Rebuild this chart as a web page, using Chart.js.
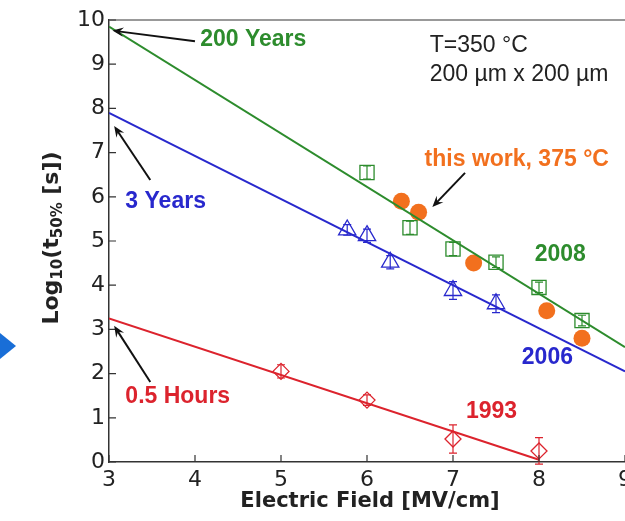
<!DOCTYPE html>
<html>
<head>
<meta charset="utf-8">
<script src="https://cdn.jsdelivr.net/npm/chart.js@4.4.1/dist/chart.umd.min.js"></script>
<style>
  body { margin: 0; overflow: hidden; background: #fff; }
  #wrap { position: absolute; left: 0; top: 0; width: 680px; height: 521px; }
</style>
</head>
<body>
<div id="wrap"><canvas id="chart-1" width="680" height="521"></canvas></div>
<script>
// fit lines (endpoints)
const fit2008X = [3, 9];
const fit2008Y = [9.85, 2.6];
const fit2006X = [3, 9];
const fit2006Y = [7.9, 2.05];
const fit1993X = [3, 8];
const fit1993Y = [3.25, 0.05];

// measured points
const sq2008X = [6, 6.5, 7, 7.5, 8, 8.5];
const sq2008Y = [6.55, 5.3, 4.82, 4.52, 3.95, 3.2];
const sq2008Err = [0.15, 0.15, 0.15, 0.12, 0.12, 0.12];

const tri2006X = [5.77, 6, 6.27, 7, 7.5];
const tri2006Y = [5.25, 5.12, 4.52, 3.88, 3.58];
const tri2006Err = [0.12, 0.15, 0.15, 0.2, 0.2];

const dia1993X = [5, 6, 7, 8];
const dia1993Y = [2.05, 1.4, 0.52, 0.25];
const dia1993Err = [0.15, 0.12, 0.32, 0.3];

const workX = [6.4, 6.6, 7.24, 8.09, 8.5];
const workY = [5.9, 5.65, 4.5, 3.42, 2.8];

const xTicks = [3, 4, 5, 6, 7, 8, 9];
const yTicks = [0, 1, 2, 3, 4, 5, 6, 7, 8, 9, 10];

const green = "rgb(45,140,45)";
const blue = "rgb(40,40,205)";
const red = "rgb(220,35,45)";
const orange = "rgb(242,112,30)";
const FONT = "'Liberation Sans', Arial, sans-serif";
const WIDE = "'DejaVu Sans', sans-serif";

function pts(xs, ys) {
  return xs.map((x, i) => ({ x: x, y: ys[i] }));
}

// text labels and arrows, positioned in data units
const notes = [
  { text: "200 Years", x: 4.06, y: 9.55, color: green, bold: true },
  { text: "3 Years", x: 3.19, y: 5.9, color: blue, bold: true },
  { text: "0.5 Hours", x: 3.19, y: 1.47, color: red, bold: true },
  { text: "this work, 375 \u00B0C", x: 6.67, y: 6.83, color: orange, bold: true },
  { text: "2008", x: 7.95, y: 4.68, color: green, bold: true },
  { text: "2006", x: 7.8, y: 2.35, color: blue, bold: true },
  { text: "1993", x: 7.15, y: 1.15, color: red, bold: true },
  { text: "T=350 \u00B0C", x: 6.73, y: 9.43, color: "#222", bold: false },
  { text: "200 \u00B5m x 200 \u00B5m", x: 6.73, y: 8.76, color: "#222", bold: false },
];
const arrows = [
  { x1: 4.0, y1: 9.52, x2: 3.04, y2: 9.76 },
  { x1: 3.48, y1: 6.38, x2: 3.06, y2: 7.6 },
  { x1: 3.48, y1: 1.81, x2: 3.06, y2: 3.08 },
  { x1: 7.14, y1: 6.54, x2: 6.76, y2: 5.77 },
];

const decor = {
  id: "decor",
  afterDatasetsDraw(chart) {
    const ctx = chart.ctx;
    const xs = chart.scales.x, ys = chart.scales.y;
    const a = chart.chartArea;
    ctx.save();

    // error bars
    chart.data.datasets.forEach((ds) => {
      if (!ds.err) return;
      ctx.strokeStyle = ds.borderColor;
      ctx.lineWidth = 1.2;
      ds.data.forEach((p, i) => {
        const px = xs.getPixelForValue(p.x);
        const top = ys.getPixelForValue(p.y + ds.err[i]);
        const bot = ys.getPixelForValue(p.y - ds.err[i]);
        ctx.beginPath();
        ctx.moveTo(px, top); ctx.lineTo(px, bot);
        ctx.moveTo(px - 4, top); ctx.lineTo(px + 4, top);
        ctx.moveTo(px - 4, bot); ctx.lineTo(px + 4, bot);
        ctx.stroke();
      });
    });

    // frame top line and inward ticks
    ctx.strokeStyle = "#777";
    ctx.lineWidth = 1.5;
    ctx.beginPath();
    ctx.moveTo(a.left, a.top); ctx.lineTo(a.right + 60, a.top);
    ctx.stroke();
    ctx.strokeStyle = "#333";
    ctx.lineWidth = 1.2;
    ctx.beginPath();
    xTicks.forEach((v) => {
      const px = xs.getPixelForValue(v);
      ctx.moveTo(px, a.bottom); ctx.lineTo(px, a.bottom - 7);
    });
    yTicks.forEach((v) => {
      const py = ys.getPixelForValue(v);
      ctx.moveTo(a.left, py); ctx.lineTo(a.left + 7, py);
    });
    ctx.stroke();

    // arrows
    ctx.strokeStyle = "#111";
    ctx.fillStyle = "#111";
    ctx.lineWidth = 2;
    arrows.forEach((ar) => {
      const x1 = xs.getPixelForValue(ar.x1), y1 = ys.getPixelForValue(ar.y1);
      const x2 = xs.getPixelForValue(ar.x2), y2 = ys.getPixelForValue(ar.y2);
      const ang = Math.atan2(y2 - y1, x2 - x1);
      ctx.beginPath();
      ctx.moveTo(x1, y1); ctx.lineTo(x2 - 6 * Math.cos(ang), y2 - 6 * Math.sin(ang));
      ctx.stroke();
      ctx.beginPath();
      ctx.moveTo(x2, y2);
      ctx.lineTo(x2 - 12 * Math.cos(ang - 0.4), y2 - 12 * Math.sin(ang - 0.4));
      ctx.lineTo(x2 - 7 * Math.cos(ang), y2 - 7 * Math.sin(ang));
      ctx.lineTo(x2 - 12 * Math.cos(ang + 0.4), y2 - 12 * Math.sin(ang + 0.4));
      ctx.closePath();
      ctx.fill();
    });

    // text notes
    ctx.textBaseline = "middle";
    ctx.textAlign = "left";
    notes.forEach((n) => {
      ctx.font = (n.bold ? "bold " : "") + "23px " + FONT;
      ctx.fillStyle = n.color;
      ctx.fillText(n.text, xs.getPixelForValue(n.x), ys.getPixelForValue(n.y));
    });

    // axis titles
    ctx.fillStyle = "#222";
    ctx.font = "bold 21px " + WIDE;
    ctx.textAlign = "center";
    ctx.fillText("Electric Field [MV/cm]", 370, 502);

    ctx.translate(52, 238);
    ctx.rotate(-Math.PI / 2);
    const big = "bold 22px " + WIDE;
    const small = "bold 15px " + WIDE;
    const parts = [["Log", big, 0], ["10", small, 6], ["(t", big, 0], ["50%", small, 6], [" [s])", big, 0]];
    let total = 0;
    parts.forEach((p) => { ctx.font = p[1]; total += ctx.measureText(p[0]).width; });
    let cx = -total / 2;
    ctx.textAlign = "left";
    parts.forEach((p) => {
      ctx.font = p[1];
      ctx.fillText(p[0], cx, p[2]);
      cx += ctx.measureText(p[0]).width;
    });
    ctx.restore();

    // stray blue pointer at the left edge
    ctx.save();
    ctx.fillStyle = "rgb(25,110,215)";
    ctx.beginPath();
    ctx.moveTo(0, 333); ctx.lineTo(16, 346); ctx.lineTo(0, 359);
    ctx.closePath();
    ctx.fill();
    ctx.restore();
  },
};

new Chart(document.getElementById("chart-1"), {
  type: "scatter",
  data: {
    datasets: [
      { data: pts(fit2008X, fit2008Y), showLine: true, borderColor: green, borderWidth: 2, pointRadius: 0 },
      { data: pts(fit2006X, fit2006Y), showLine: true, borderColor: blue, borderWidth: 2, pointRadius: 0 },
      { data: pts(fit1993X, fit1993Y), showLine: true, borderColor: red, borderWidth: 2, pointRadius: 0 },
      { data: pts(sq2008X, sq2008Y), err: sq2008Err, pointStyle: "rect", pointRadius: 10, borderColor: green, backgroundColor: "rgba(0,0,0,0)", pointBorderWidth: 1.3 },
      { data: pts(tri2006X, tri2006Y), err: tri2006Err, pointStyle: "triangle", pointRadius: 10, borderColor: blue, backgroundColor: "rgba(0,0,0,0)", pointBorderWidth: 1.3 },
      { data: pts(dia1993X, dia1993Y), err: dia1993Err, pointStyle: "rectRot", pointRadius: 8, borderColor: red, backgroundColor: "rgba(0,0,0,0)", pointBorderWidth: 1.3 },
      { data: pts(workX, workY), pointStyle: "circle", pointRadius: 8.5, borderColor: orange, backgroundColor: orange, pointBorderWidth: 0 },
    ],
  },
  options: {
    responsive: false,
    devicePixelRatio: 1,
    animation: false,
    layout: { padding: { left: 0, right: 55, top: 20, bottom: 0 } },
    plugins: { legend: { display: false }, tooltip: { enabled: false } },
    scales: {
      x: {
        type: "linear",
        min: 3,
        max: 9,
        afterFit: (s) => { s.height = 59; },
        afterBuildTicks: (s) => { s.ticks = xTicks.map((v) => ({ value: v })); },
        ticks: { padding: 5, color: "#222", font: { size: 22, family: WIDE } },
        grid: { display: false, drawTicks: false },
        border: { color: "#333", width: 1.5 },
      },
      y: {
        min: 0,
        max: 10,
        afterFit: (s) => { s.width = 109; },
        afterBuildTicks: (s) => { s.ticks = yTicks.map((v) => ({ value: v })); },
        ticks: { padding: 4, color: "#222", font: { size: 22, family: WIDE } },
        grid: { display: false, drawTicks: false },
        border: { color: "#333", width: 1.5 },
      },
    },
  },
  plugins: [decor],
});
</script>
</body>
</html>
